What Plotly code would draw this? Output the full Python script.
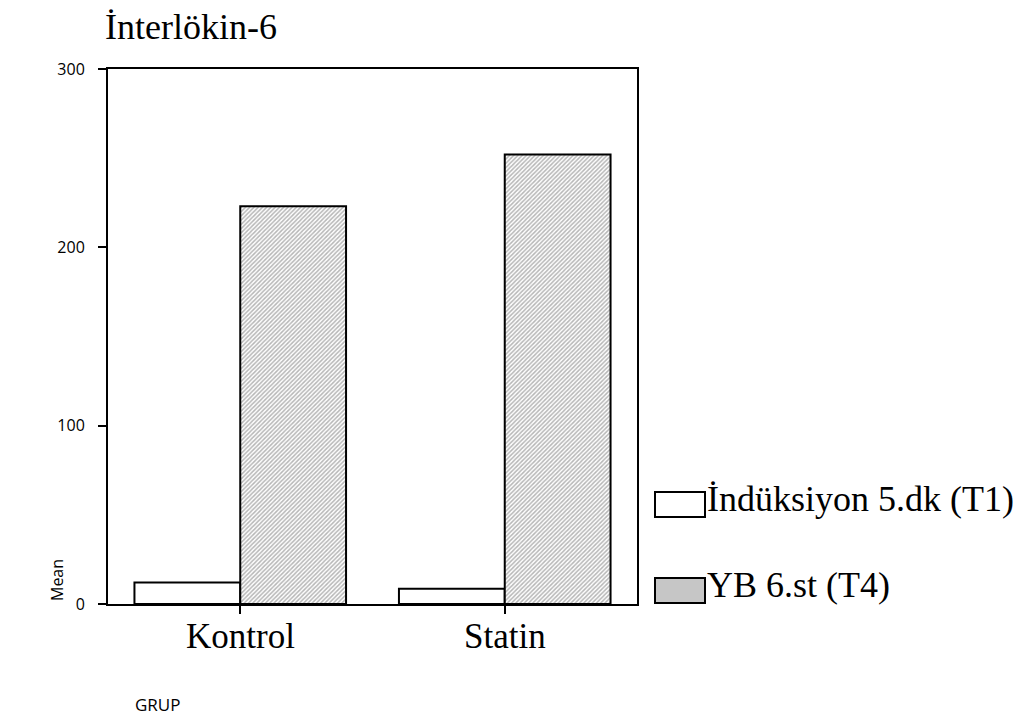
import plotly.graph_objects as go

categories = ["Kontrol", "Statin"]
series_names = ["İndüksiyon 5.dk (T1)", "YB 6.st (T4)"]
t1_values = [12, 8.5]
t4_values = [223, 252]
y_ticks = [0, 100, 200, 300]

SERIF = "Liberation Serif, Times New Roman, serif"
SANS = "Open Sans, Noto Sans, sans-serif"

# screen-space plot frame (page body adds an 8px offset)
PX0, PX1, PY0, PY1 = 108, 637, 69, 604
PW, PH = PX1 - PX0, PY1 - PY0
OFF = 8


def px(x):
    return (x - PX0) / PW


def py(y):
    return (PY1 - y) / PH


fig = go.Figure()
fig.add_trace(go.Bar(
    x=categories, y=t1_values, name=series_names[0],
    marker=dict(color="white", line=dict(color="black", width=2)),
    showlegend=False,
))
fig.add_trace(go.Bar(
    x=categories, y=t4_values, name=series_names[1],
    marker=dict(color="white", line=dict(color="black", width=2),
                pattern=dict(shape="/", size=3, fgcolor="#6e6e6e", bgcolor="white", solidity=0.5)),
    showlegend=False,
))

fig.update_layout(
    width=1021, height=724, autosize=False,
    paper_bgcolor="white", plot_bgcolor="white",
    margin=dict(l=PX0 - OFF, r=1021 - (PX1 - OFF), t=PY0 - OFF, b=724 - (PY1 - OFF)),
    barmode="group", bargap=0.2, bargroupgap=0,
    showlegend=False,
    xaxis=dict(
        showline=True, linecolor="black", linewidth=2, mirror=True,
        ticks="outside", ticklen=8, tickwidth=2, tickcolor="black",
        showticklabels=False,
        showgrid=False, zeroline=False,
    ),
    yaxis=dict(
        range=[0, 300], tickvals=y_ticks,
        showline=True, linecolor="black", linewidth=2, mirror=True,
        ticks="outside", ticklen=8, tickwidth=2, tickcolor="black",
        ticklabelstandoff=10,
        tickfont=dict(family=SANS, size=16, color="black"),
        showgrid=False, zeroline=False,
    ),
)

# category labels placed under each category position
for cat in categories:
    fig.add_annotation(text=cat, xref="x", yref="paper",
                       x=cat, y=py(636),
                       xanchor="center", yanchor="middle", showarrow=False,
                       font=dict(family=SERIF, size=35, color="black"))

fig.add_annotation(text="İnterlökin-6", xref="paper", yref="paper",
                   x=px(103), y=py(27),
                   xanchor="left", yanchor="middle", showarrow=False,
                   font=dict(family=SERIF, size=36, color="black"))
fig.add_annotation(text="Mean", xref="paper", yref="paper",
                   x=px(57), y=py(580),
                   xanchor="center", yanchor="middle", showarrow=False, textangle=-90,
                   font=dict(family=SANS, size=16, color="black"))
fig.add_annotation(text="GRUP", xref="paper", yref="paper",
                   x=px(133), y=py(704),
                   xanchor="left", yanchor="middle", showarrow=False,
                   font=dict(family=SANS, size=17, color="black"))

# legend drawn with shapes and text
legend_rows = [(492, 517, "white"), (578, 603, "#c6c6c6")]
for (y0, y1, fill), name in zip(legend_rows, series_names):
    fig.add_shape(type="rect", xref="paper", yref="paper",
                  x0=px(655), x1=px(705), y0=py(y1), y1=py(y0),
                  fillcolor=fill, line=dict(color="black", width=2))
    fig.add_annotation(text=name, xref="paper", yref="paper",
                       x=px(705), y=py((y0 + y1) / 2 - 6),
                       xanchor="left", yanchor="middle", showarrow=False,
                       font=dict(family=SERIF, size=36, color="black"))

fig.write_html("out.html")
